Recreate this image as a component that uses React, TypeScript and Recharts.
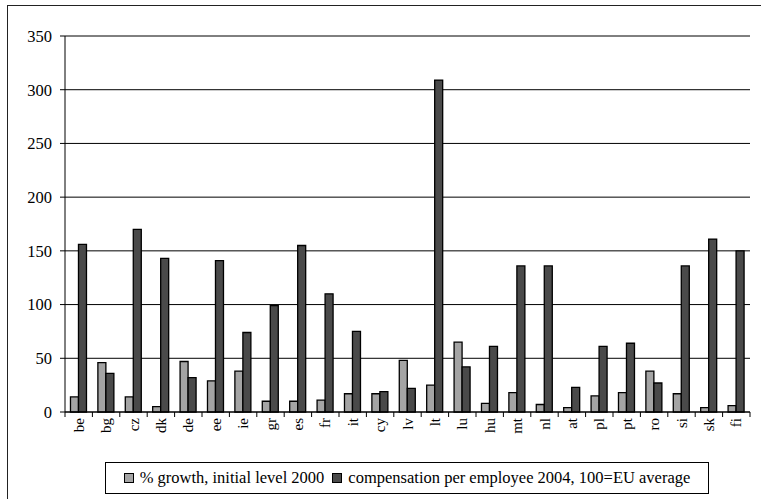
import React from "react";
import { BarChart, Bar, XAxis, YAxis, CartesianGrid } from "recharts";

const countries = ["be", "bg", "cz", "dk", "de", "ee", "ie", "gr", "es", "fr", "it", "cy", "lv", "lt", "lu", "hu", "mt", "nl", "at", "pl", "pt", "ro", "si", "sk", "fi"];
const growth = [14, 46, 14, 5, 47, 29, 38, 10, 10, 11, 17, 17, 48, 25, 65, 8, 18, 7, 4, 15, 18, 38, 17, 4, 6];
const compensation = [156, 36, 170, 143, 32, 141, 74, 99, 155, 110, 75, 19, 22, 309, 42, 61, 136, 136, 23, 61, 64, 27, 136, 161, 150];
const yTicks = [0, 50, 100, 150, 200, 250, 300, 350];

const growthName = "% growth, initial level 2000";
const compName = "compensation per employee 2004, 100=EU average";

const data = countries.map((c, i) => ({ country: c, growth: growth[i], comp: compensation[i] }));

const W = 761;
const H = 499;
const PLOT_LEFT = 65;
const PLOT_RIGHT = 750;
const PLOT_TOP = 36;
const PLOT_BOTTOM = 412;
const BAND = (PLOT_RIGHT - PLOT_LEFT) / countries.length;
const FONT = "'Liberation Serif', 'Times New Roman', serif";
const LIGHT = "#a4a4a4";
const DARK = "#4a4a4a";

// category label rotated, with tick marks on the band boundaries
const CountryTick = (props: any) => {
  const { x, payload, index } = props;
  const left = x - BAND / 2;
  const last = index === countries.length - 1;
  return (
    <g>
      <line x1={left} x2={left} y1={PLOT_BOTTOM} y2={PLOT_BOTTOM + 5} stroke="#000" />
      {last && <line x1={left + BAND} x2={left + BAND} y1={PLOT_BOTTOM} y2={PLOT_BOTTOM + 5} stroke="#000" />}
      <text
        x={0}
        y={0}
        transform={`translate(${x},${PLOT_BOTTOM + 6}) rotate(-90)`}
        textAnchor="end"
        dominantBaseline="central"
        fontFamily={FONT}
        fontSize={15}
        fill="#000"
      >
        {payload.value}
      </text>
    </g>
  );
};

const Swatch = ({ color }: { color: string }) => (
  <span
    style={{
      display: "inline-block",
      width: 8,
      height: 8,
      background: color,
      border: "1.5px solid #000",
      marginRight: 6,
    }}
  />
);

export default function App() {
  return (
    <div style={{ position: "absolute", left: 0, top: 0, width: W, height: H, overflow: "hidden", background: "#fff" }}>
      <div
        style={{
          position: "absolute",
          left: 7,
          top: 5,
          width: 900,
          height: 700,
          border: "1px solid #222",
        }}
      />
      <div style={{ position: "absolute", left: 0, top: 0 }}>
        <BarChart
          width={W}
          height={H}
          data={data}
          margin={{ top: PLOT_TOP, right: W - PLOT_RIGHT, bottom: H - PLOT_BOTTOM - 45, left: 8 }}
          barCategoryGap="20%"
          barGap={0}
        >
          <CartesianGrid vertical={false} stroke="#000" strokeWidth={1} />
          <XAxis
            dataKey="country"
            interval={0}
            height={45}
            tickLine={false}
            axisLine={{ stroke: "#000" }}
            tick={<CountryTick />}
          />
          <XAxis xAxisId="top" dataKey="country" orientation="top" height={0} tick={false} tickLine={false} axisLine={{ stroke: "#888" }} />
          <YAxis
            domain={[0, 350]}
            ticks={yTicks}
            width={57}
            interval={0}
            tickSize={5}
            tickMargin={8}
            tickLine={{ stroke: "#000" }}
            axisLine={{ stroke: "#000" }}
            tick={{ fontFamily: FONT, fontSize: 16.5, fill: "#000" }}
          />
          <YAxis yAxisId="right" orientation="right" width={0} tick={false} tickLine={false} axisLine={{ stroke: "#888" }} domain={[0, 350]} />
          <Bar dataKey="growth" name={growthName} fill={LIGHT} stroke="#000" strokeWidth={1.3} isAnimationActive={false} />
          <Bar dataKey="comp" name={compName} fill={DARK} stroke="#000" strokeWidth={1.3} isAnimationActive={false} />
        </BarChart>
      </div>
      <div
        style={{
          position: "absolute",
          left: 105,
          top: 462,
          width: 602,
          height: 30,
          border: "1px solid #000",
          display: "flex",
          alignItems: "center",
          justifyContent: "center",
          fontFamily: FONT,
          fontSize: 16.5,
          color: "#000",
          whiteSpace: "nowrap",
        }}
      >
        <Swatch color={LIGHT} />
        <span style={{ marginRight: 8 }}>{growthName}</span>
        <Swatch color={DARK} />
        <span>{compName}</span>
      </div>
    </div>
  );
}
